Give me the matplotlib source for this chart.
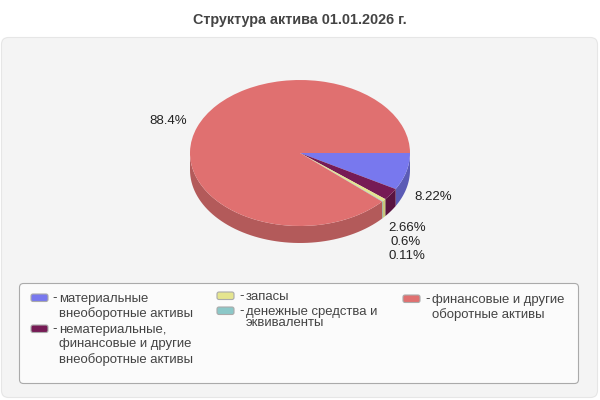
import numpy as np
import matplotlib
matplotlib.use('Agg')
import matplotlib.pyplot as plt
from matplotlib.patches import FancyBboxPatch, Polygon

plt.rcParams['font.family'] = ['Liberation Sans', 'DejaVu Sans']

title = 'Структура актива 01.01.2026 г.'
names = ['материальные\nвнеоборотные активы',
         'нематериальные,\nфинансовые и другие\nвнеоборотные активы',
         'запасы',
         'денежные средства и\nэквиваленты',
         'финансовые и другие\nоборотные активы']
values = [8.22, 2.66, 0.6, 0.11, 88.4]
colors = ['#7878EE', '#761B55', '#E5E58F', '#8CC8C8', '#E07070']
side_colors = ['#5B5BB5', '#5A1441', '#C8C87A', '#6FA0A0', '#B35A5A']
value_labels = ['8.22%', '2.66%', '0.6%', '0.11%', '88.4%']
label_pos = [(433, 197), (407, 228), (406, 242), (407, 256), (168, 121)]
legend_pos = [(31, 298), (31, 329), (217, 296), (217, 311), (403, 299)]
legend_spacing = [1.25, 1.25, 1.0, 0.9, 1.25]
text_x = [59, 59, 246, 246, 432]

W, H = 600, 400
fig = plt.figure(figsize=(6, 4), dpi=100, facecolor='white')
bg = fig.add_axes([0, 0, 1, 1])
bg.set_xlim(0, W)
bg.set_ylim(H, 0)
bg.axis('off')

bg.text(300, 20, title, ha='center', va='center', fontsize=10.4, fontweight='bold', color='#444444')

# panel and legend box
bg.add_patch(FancyBboxPatch((1.5, 37.5), 596, 360, boxstyle='round,pad=0,rounding_size=7',
                            fc='#F4F4F4', ec='#E6E6E6', lw=0.8))
bg.add_patch(FancyBboxPatch((19.5, 283.5), 559, 100, boxstyle='round,pad=0,rounding_size=4',
                            fc='#FBFBFB', ec='#AAAAAA', lw=0.8))

# pie: squashed axes, side wall first and the top on it
cx, cy, rx, ry, depth = 300, 153, 110, 73, 17
pie_ax = fig.add_axes([(cx - rx) / W, 1 - (cy + ry + depth) / H, 2 * rx / W, (2 * ry + depth) / H])
pie_ax.patch.set_alpha(0)
edges = np.cumsum([0] + values) / sum(values) * 360
d = depth / ry
for i in range(len(values)):
    a0, a1 = edges[i], min(edges[i + 1], 180)
    if a0 >= 180:
        continue
    t = np.radians(np.linspace(a0, a1, 60))
    x, y = np.cos(t), -np.sin(t)
    pts = np.r_[np.c_[x, y], np.c_[x[::-1], y[::-1] - d]]
    pie_ax.add_patch(Polygon(pts, fc=side_colors[i], ec='none'))
pie_ax.pie(values, colors=colors, startangle=0, counterclock=False, radius=1,
           wedgeprops={'linewidth': 0})
pie_ax.set_aspect('auto')
pie_ax.set_xlim(-1, 1)
pie_ax.set_ylim(-1 - d, 1)
pie_ax.axis('off')

for lab, (x, y) in zip(value_labels, label_pos):
    bg.text(x, y, lab, ha='center', va='center', fontsize=9.5, color='#222222', zorder=5)

# legend
for name, c, (x, y), sp, tx in zip(names, colors, legend_pos, legend_spacing, text_x):
    bg.add_patch(FancyBboxPatch((x, y - 4), 17, 7.5, boxstyle='round,pad=0,rounding_size=2',
                                fc=c, ec='#AAAAAA', lw=0.8, zorder=4))
    bg.text(tx - 7, y, '-', ha='left', va='center', fontsize=9.45, color='#333333')
    bg.text(tx, y - 5, name, ha='left', va='top', fontsize=9.45, color='#444444', linespacing=sp)

fig.savefig('out.png', dpi=100)
